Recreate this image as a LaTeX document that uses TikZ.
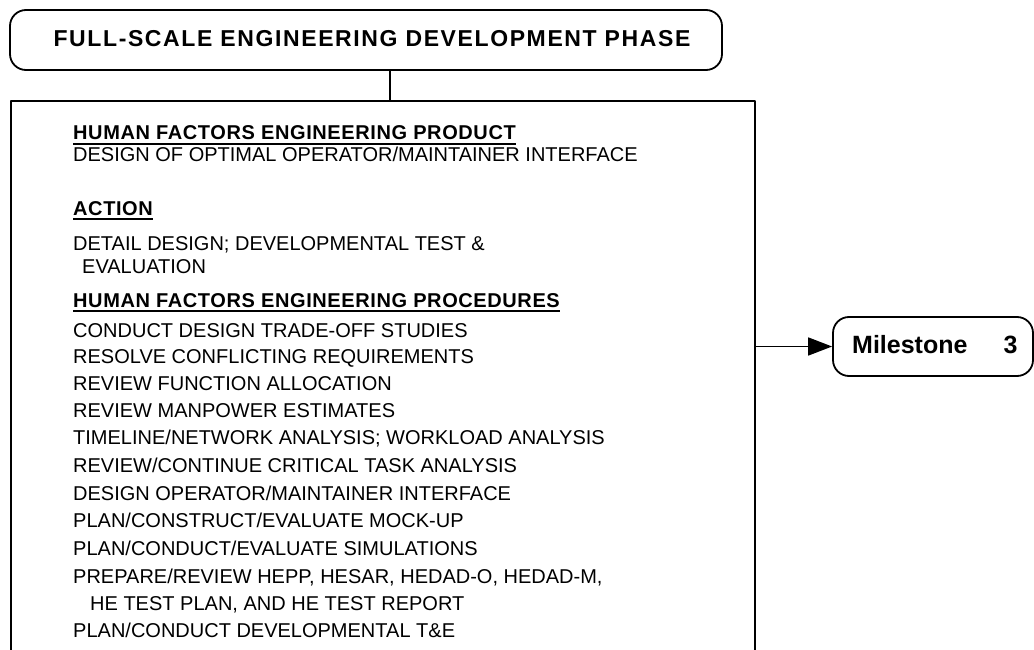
\documentclass[tikz,border=0pt]{standalone}
\usepackage{fontspec}
\setmainfont{Liberation Sans}
\newfontfamily\titlefont{Liberation Sans}[LetterSpace=7]
\newfontfamily\hdrfont{Liberation Sans}[LetterSpace=3]
\usetikzlibrary{arrows.meta}
\begin{document}
\begin{tikzpicture}[x=1pt,y=-1pt,line join=round,
  boxline/.style={draw=black,line width=1.8pt},
  txt/.style={anchor=base west,inner sep=0pt,font=\fontsize{20}{24}\selectfont},
  hdr/.style={anchor=base west,inner sep=0pt,font=\hdrfont\bfseries\fontsize{20}{24}\selectfont},
  uline/.style={line width=1.6pt}]
\useasboundingbox (0,0) rectangle (1034,650);
\clip (0,0) rectangle (1034,650);
\fill[white] (0,0) rectangle (1034,650);

% title box
\node[boxline,rounded corners=16pt,minimum width=712pt,minimum height=60pt,inner sep=0pt]
  (top) at (366,40) {};
\node[inner sep=0pt,font=\titlefont\bfseries\fontsize{23}{26}\selectfont] (title) at (372,39)
  {FULL-SCALE ENGINEERING DEVELOPMENT PHASE};

% main box (bottom runs off the page)
\node[boxline,minimum width=744pt,minimum height=580pt,inner sep=0pt] (main) at (383,391) {};

\coordinate (cx) at (390,0);
\draw[line width=1.8pt] (top.south -| cx) -- (main.north -| cx);

% milestone
\node[boxline,rounded corners=16pt,minimum width=200pt,minimum height=59pt,inner sep=0pt]
  (ms) at (933,346.5) {};
\node[anchor=base west,inner sep=0pt,font=\bfseries\fontsize{25}{28}\selectfont] (mst) at (852,353)
  {Milestone\hspace{36pt}3};
\draw[line width=1.8pt,-{Triangle[length=24pt,width=18pt]}] (main.east |- ms.west) -- (ms.west);

% text
\node[hdr] (h1) at (73,140) {HUMAN FACTORS ENGINEERING PRODUCT};
\draw[uline] ([yshift=-4pt]h1.base west) -- ([yshift=-4pt]h1.base east);
\node[txt] (t1) at (73,162) {DESIGN OF OPTIMAL OPERATOR/MAINTAINER INTERFACE};
\node[hdr] (h2) at (73,215) {ACTION};
\draw[uline] ([yshift=-4pt]h2.base west) -- ([yshift=-4pt]h2.base east);
\node[txt] (t2) at (73,250) {DETAIL DESIGN; DEVELOPMENTAL TEST \&};
\node[txt] (t3) at (82,273) {EVALUATION};
\node[hdr] (h3) at (73,307) {HUMAN FACTORS ENGINEERING PROCEDURES};
\draw[uline] ([yshift=-4pt]h3.base west) -- ([yshift=-4pt]h3.base east);
\node[txt] (p1) at (73,337) {CONDUCT DESIGN TRADE-OFF STUDIES};
\node[txt] (p2) at (73,363) {RESOLVE CONFLICTING REQUIREMENTS};
\node[txt] (p3) at (73,390) {REVIEW FUNCTION ALLOCATION};
\node[txt] (p4) at (73,417) {REVIEW MANPOWER ESTIMATES};
\node[txt] (p5) at (73,444) {TIMELINE/NETWORK ANALYSIS; WORKLOAD ANALYSIS};
\node[txt] (p6) at (73,472) {REVIEW/CONTINUE CRITICAL TASK ANALYSIS};
\node[txt] (p7) at (73,500) {DESIGN OPERATOR/MAINTAINER INTERFACE};
\node[txt] (p8) at (73,527) {PLAN/CONSTRUCT/EVALUATE MOCK-UP};
\node[txt] (p9) at (73,555) {PLAN/CONDUCT/EVALUATE SIMULATIONS};
\node[txt] (p10) at (73,583) {PREPARE/REVIEW HEPP, HESAR, HEDAD-O, HEDAD-M,};
\node[txt] (p11) at (90,610) {HE TEST PLAN, AND HE TEST REPORT};
\node[txt] (p12) at (73,637) {PLAN/CONDUCT DEVELOPMENTAL T\&E};
\end{tikzpicture}
\end{document}
